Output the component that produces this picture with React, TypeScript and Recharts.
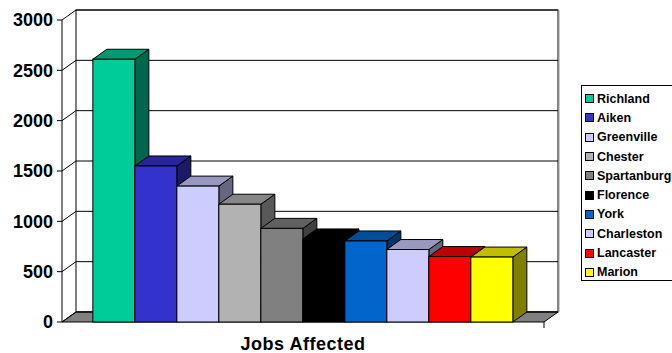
import { BarChart, Bar, XAxis, YAxis, CartesianGrid, Legend } from 'recharts'

const counties = [
  'Richland',
  'Aiken',
  'Greenville',
  'Chester',
  'Spartanburg',
  'Florence',
  'York',
  'Charleston',
  'Lancaster',
  'Marion',
]
const jobs = [2610, 1550, 1350, 1170, 930, 825, 805, 720, 650, 645]
const colors = [
  '#00CC99',
  '#3333CC',
  '#CCCCFF',
  '#B2B2B2',
  '#808080',
  '#000000',
  '#0066CC',
  '#CCCCFF',
  '#FF0000',
  '#FFFF00',
]
const category = 'Jobs Affected'
const yTicks = [0, 500, 1000, 1500, 2000, 2500, 3000]

const data = [
  { name: category, ...Object.fromEntries(counties.map((c, i) => [c, jobs[i]])) },
]

// depth offset of the fake 3D walls and bars
const DX = 14
const DY = 10
const FONT = '"Liberation Sans", Arial, sans-serif'

function shade(hex: string, k: number): string {
  const n = parseInt(hex.slice(1), 16)
  const r = Math.round(((n >> 16) & 255) * k)
  const g = Math.round(((n >> 8) & 255) * k)
  const b = Math.round((n & 255) * k)
  return `rgb(${r},${g},${b})`
}

function Bar3D(props: any) {
  const { x, y, width: w, height: h, fill } = props
  if (h == null || w == null) return null
  return (
    <g stroke="#000" strokeWidth={1}>
      <polygon
        points={`${x + w},${y} ${x + w + DX},${y - DY} ${x + w + DX},${y + h - DY} ${x + w},${y + h}`}
        fill={shade(fill, 0.5)}
      />
      <polygon
        points={`${x},${y} ${x + DX},${y - DY} ${x + w + DX},${y - DY} ${x + w},${y}`}
        fill={shade(fill, 0.75)}
      />
      <rect x={x} y={y} width={w} height={h} fill={fill} />
    </g>
  )
}

// gridlines pushed onto the back wall, plus the walls and floor themselves
function WallLine(p: any) {
  const { x1, y1, x2, index, x, y, width, height } = p
  return (
    <g key={`wall-${index}`}>
      {index === 0 && (
        <g>
          <rect x={x + DX} y={y - DY} width={width} height={height} fill="#fff" stroke="#000" />
          <line x1={x + width + DX + 1} y1={y - DY} x2={x + width + DX + 1} y2={y + height - DY} stroke="#999" />
          <polygon
            points={`${x},${y + height} ${x + width},${y + height} ${x + width + DX},${y + height - DY} ${x + DX},${y + height - DY}`}
            fill="#808080"
            stroke="#000"
          />
          <line x1={x + width} y1={y + height} x2={x + width} y2={y + height + 6} stroke="#000" />
        </g>
      )}
      <line x1={x1 + DX} y1={y1 - DY} x2={x2 + DX} y2={y1 - DY} stroke="#000" />
      <line x1={x1} y1={y1} x2={x1 + DX} y2={y1 - DY} stroke="#000" />
    </g>
  )
}

function LegendBox({ payload }: any) {
  // keep the series order instead of the legend's alphabetical sort
  const items = [...(payload || [])].sort(
    (a: any, b: any) => counties.indexOf(a.value) - counties.indexOf(b.value),
  )
  return (
    <div
      style={{
        border: '1px solid #000',
        background: '#fff',
        width: 100,
        height: 196,
        boxSizing: 'border-box',
        paddingTop: 3,
        paddingLeft: 3,
        fontFamily: FONT,
        fontWeight: 'bold',
        fontSize: 12.5,
        color: '#000',
        whiteSpace: 'nowrap',
      }}
    >
      {items.map((e: any) => (
        <div key={e.value} style={{ display: 'flex', alignItems: 'center', height: 19.3 }}>
          <span
            style={{
              display: 'inline-block',
              width: 7,
              height: 7,
              border: '1px solid #000',
              background: e.color,
              marginRight: 3,
            }}
          />
          {e.value}
        </div>
      ))}
    </div>
  )
}

export default function App() {
  return (
    <div
      style={{
        position: 'absolute',
        left: 0,
        top: 0,
        width: 672,
        height: 353,
        overflow: 'hidden',
        background: '#fff',
      }}
    >
      <BarChart
        width={672}
        height={353}
        data={data}
        margin={{ top: 20, right: 128, left: 8, bottom: 0 }}
        barCategoryGap="6.4%"
        barGap={0}
      >
        <CartesianGrid horizontal={WallLine} vertical={false} />
        <XAxis
          dataKey="name"
          height={31}
          axisLine={false}
          tickLine={false}
          tickSize={0}
          tickMargin={15}
          tick={{ fontSize: 18, fontWeight: 'bold', fill: '#000', fontFamily: FONT, letterSpacing: 0.5 }}
        />
        <YAxis
          width={54}
          domain={[0, 3000]}
          ticks={yTicks}
          interval={0}
          axisLine={{ stroke: '#000' }}
          tickLine={{ stroke: '#000' }}
          tickSize={5}
          tickMargin={4}
          tick={{ fontSize: 18, fontWeight: 'bold', fill: '#000', fontFamily: FONT }}
        />
        <Legend
          layout="horizontal"
          align="center"
          verticalAlign="middle"
          content={<LegendBox />}
          wrapperStyle={{ left: 581, top: 85, width: 100 }}
        />
        {counties.map((c, i) => (
          <Bar
            key={c}
            dataKey={c}
            name={c}
            fill={colors[i]}
            shape={<Bar3D />}
            isAnimationActive={false}
          />
        ))}
      </BarChart>
    </div>
  )
}
